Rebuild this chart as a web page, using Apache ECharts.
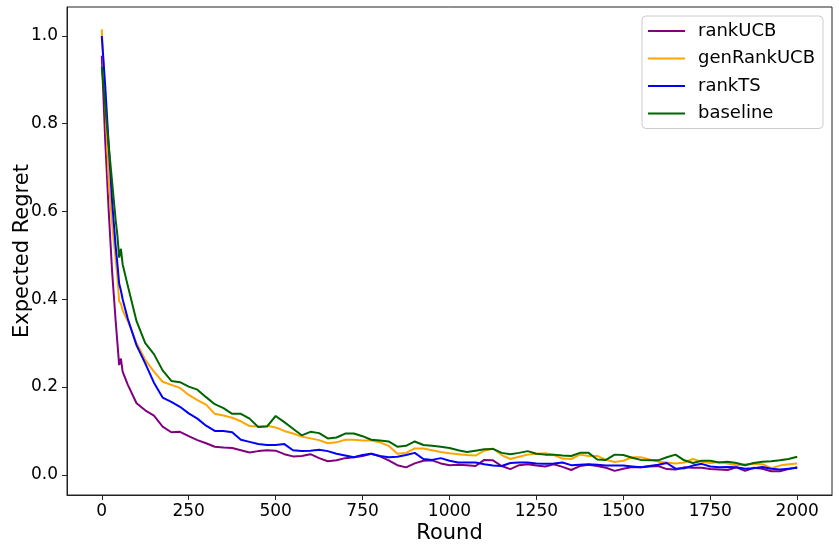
<!DOCTYPE html>
<html>
<head>
<meta charset="utf-8">
<script src="https://cdn.jsdelivr.net/npm/echarts@6/dist/echarts.min.js"></script>
<style>
  html, body { margin: 0; padding: 0; background: #fff; }
  #chart { width: 839px; height: 551px; }
</style>
</head>
<body>
<div id="chart"></div>
<script>
// rounds (x) shared by all series
const rounds = [0, 10, 20, 30, 40, 45, 50, 55, 60, 75,
  100, 125, 150, 175, 200, 225, 250, 275, 300, 325,
  350, 375, 400, 425, 450, 475, 500, 525, 550, 575,
  600, 625, 650, 675, 700, 725, 750, 775, 800, 825,
  850, 875, 900, 925, 950, 975, 1000, 1025, 1050, 1075,
  1100, 1125, 1150, 1175, 1200, 1225, 1250, 1275, 1300, 1325,
  1350, 1375, 1400, 1425, 1450, 1475, 1500, 1525, 1550, 1575,
  1600, 1625, 1650, 1675, 1700, 1725, 1750, 1775, 1800, 1825,
  1850, 1875, 1900, 1925, 1950, 1975, 2000]

const rankUCB = [0.955, 0.76, 0.60, 0.46, 0.35, 0.30, 0.25, 0.265, 0.235, 0.205,
  0.163, 0.147, 0.135, 0.11, 0.097, 0.098, 0.088, 0.079, 0.072, 0.064,
  0.062, 0.061, 0.056, 0.051, 0.054, 0.056, 0.055, 0.047, 0.042, 0.043,
  0.047, 0.038, 0.031, 0.033, 0.038, 0.040, 0.043, 0.048, 0.042, 0.033,
  0.022, 0.017, 0.026, 0.032, 0.033, 0.026, 0.022, 0.023, 0.022, 0.020,
  0.034, 0.033, 0.020, 0.013, 0.022, 0.024, 0.021, 0.019, 0.024, 0.018,
  0.011, 0.020, 0.023, 0.020, 0.016, 0.009, 0.014, 0.018, 0.017, 0.019,
  0.020, 0.013, 0.012, 0.017, 0.016, 0.016, 0.013, 0.012, 0.011, 0.017,
  0.009, 0.016, 0.014, 0.008, 0.008, 0.013, 0.017]

const genRankUCB = [1.015, 0.85, 0.67, 0.57, 0.49, 0.45, 0.395, 0.39, 0.375, 0.35,
  0.30, 0.262, 0.235, 0.212, 0.205, 0.198, 0.182, 0.17, 0.16, 0.139,
  0.135, 0.13, 0.122, 0.111, 0.11, 0.112, 0.108, 0.10, 0.094, 0.087,
  0.083, 0.079, 0.072, 0.074, 0.080, 0.080, 0.078, 0.078, 0.074, 0.066,
  0.048, 0.050, 0.060, 0.060, 0.056, 0.052, 0.049, 0.047, 0.045, 0.044,
  0.055, 0.060, 0.045, 0.036, 0.041, 0.046, 0.048, 0.049, 0.045, 0.037,
  0.036, 0.046, 0.043, 0.043, 0.034, 0.029, 0.032, 0.040, 0.040, 0.035,
  0.030, 0.028, 0.026, 0.028, 0.036, 0.030, 0.027, 0.029, 0.026, 0.022,
  0.024, 0.025, 0.024, 0.015, 0.021, 0.024, 0.026]

const rankTS = [1.0, 0.885, 0.75, 0.62, 0.52, 0.48, 0.436, 0.42, 0.40, 0.355,
  0.295, 0.254, 0.21, 0.176, 0.166, 0.155, 0.14, 0.128, 0.112, 0.10,
  0.10, 0.097, 0.08, 0.075, 0.07, 0.068, 0.068, 0.07, 0.056, 0.054,
  0.055, 0.057, 0.054, 0.048, 0.044, 0.040, 0.045, 0.048, 0.043, 0.040,
  0.041, 0.045, 0.050, 0.036, 0.034, 0.038, 0.032, 0.028, 0.028, 0.028,
  0.024, 0.021, 0.020, 0.027, 0.028, 0.028, 0.026, 0.025, 0.026, 0.028,
  0.022, 0.023, 0.024, 0.023, 0.021, 0.021, 0.021, 0.019, 0.017, 0.020,
  0.023, 0.027, 0.014, 0.015, 0.021, 0.025, 0.019, 0.017, 0.018, 0.017,
  0.014, 0.015, 0.018, 0.014, 0.012, 0.014, 0.016]

const baseline = [0.93, 0.84, 0.75, 0.665, 0.58, 0.545, 0.495, 0.515, 0.48, 0.43,
  0.35, 0.30, 0.275, 0.238, 0.214, 0.211, 0.201, 0.194, 0.177, 0.161,
  0.152, 0.139, 0.139, 0.128, 0.109, 0.11, 0.134, 0.12, 0.105, 0.09,
  0.098, 0.095, 0.083, 0.085, 0.094, 0.094, 0.088, 0.080, 0.078, 0.076,
  0.064, 0.066, 0.076, 0.068, 0.066, 0.064, 0.061, 0.056, 0.052, 0.055,
  0.058, 0.059, 0.050, 0.047, 0.050, 0.054, 0.048, 0.046, 0.046, 0.044,
  0.043, 0.050, 0.050, 0.035, 0.034, 0.046, 0.045, 0.039, 0.034, 0.033,
  0.033, 0.040, 0.046, 0.033, 0.027, 0.032, 0.032, 0.028, 0.030, 0.027,
  0.022, 0.027, 0.030, 0.031, 0.033, 0.036, 0.041]

const xTicks = [0, 250, 500, 750, 1000, 1250, 1500, 1750, 2000]
const yTicks = [0, 0.2, 0.4, 0.6, 0.8, 1.0]

const font = 'DejaVu Sans'
const axisColor = '#222'

function makeSeries (name, values, color) {
  return {
    name: name,
    type: 'line',
    data: rounds.map((r, i) => [r, values[i]]),
    showSymbol: false,
    symbol: 'none',
    lineStyle: { color: color, width: 2 },
    itemStyle: { color: color }
  }
}

const chart = echarts.init(document.getElementById('chart'))
chart.setOption({
  animation: false,
  grid: {
    left: 67, right: 7, top: 7, bottom: 56,
    outerBoundsMode: 'none',
    containLabel: false,
    show: true, borderColor: axisColor, borderWidth: 1
  },
  legend: {
    orient: 'vertical',
    right: 16,
    top: 16,
    icon: 'rect',
    itemWidth: 37,
    itemHeight: 2,
    itemGap: 9.5,
    padding: [6, 8, 6, 6],
    backgroundColor: '#fff',
    borderColor: '#ccc',
    borderWidth: 1,
    borderRadius: 4,
    textStyle: { fontFamily: font, fontSize: 18, color: '#000', padding: [0, 0, 0, 8] },
    data: ['rankUCB', 'genRankUCB', 'rankTS', 'baseline']
  },
  xAxis: {
    type: 'value',
    min: -100,
    max: 2100,
    name: 'Round',
    nameLocation: 'middle',
    nameGap: 28,
    nameMoveOverlap: false,
    nameTextStyle: { fontFamily: font, fontSize: 21, color: '#000' },
    axisLine: { show: true, onZero: false, lineStyle: { color: axisColor } },
    axisTick: { show: true, length: 5, customValues: xTicks, lineStyle: { color: axisColor } },
    axisLabel: {
      customValues: xTicks,
      margin: 8,
      fontFamily: font,
      fontSize: 17,
      color: '#000',
      formatter: v => String(v)
    },
    splitLine: { show: false }
  },
  yAxis: {
    type: 'value',
    min: -0.046,
    max: 1.066,
    name: 'Expected Regret',
    nameLocation: 'middle',
    nameGap: 34,
    nameMoveOverlap: false,
    nameTextStyle: { fontFamily: font, fontSize: 21, color: '#000' },
    axisLine: { show: true, onZero: false, lineStyle: { color: axisColor } },
    axisTick: { show: true, length: 5, customValues: yTicks, lineStyle: { color: axisColor } },
    axisLabel: {
      customValues: yTicks,
      margin: 9,
      fontFamily: font,
      fontSize: 17,
      color: '#000',
      formatter: v => v.toFixed(1)
    },
    splitLine: { show: false }
  },
  series: [
    makeSeries('rankUCB', rankUCB, '#800080'),
    makeSeries('genRankUCB', genRankUCB, '#FFA500'),
    makeSeries('rankTS', rankTS, '#0000FF'),
    makeSeries('baseline', baseline, '#006400')
  ]
})
</script>
</body>
</html>
